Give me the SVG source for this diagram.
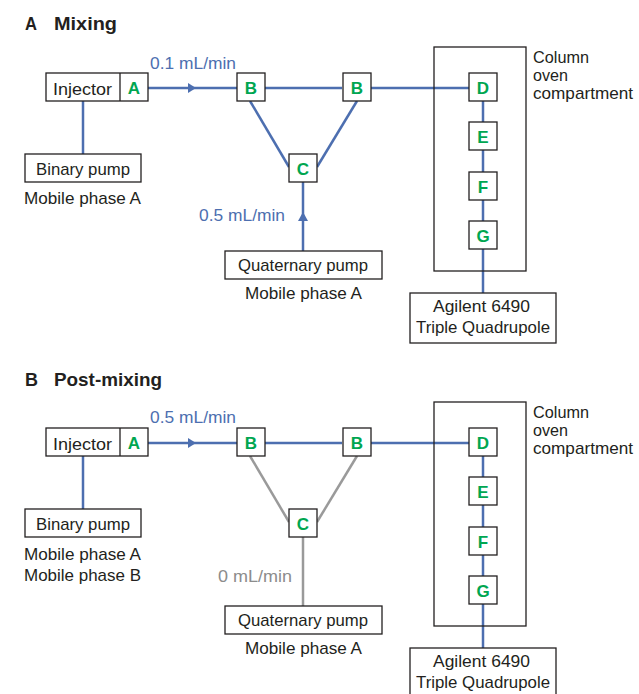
<svg xmlns="http://www.w3.org/2000/svg" width="639" height="694" viewBox="0 0 639 694">
<style>
text{font-family:"Liberation Sans Narrow","Liberation Sans",Arial,sans-serif;fill:#231f20;font-size:17px}
.title{font-weight:bold;font-size:19px}
.box{fill:#fff;stroke:#231f20;stroke-width:1.3}
.frame{fill:none;stroke:#231f20;stroke-width:1.3}
.ltr{font-weight:bold;fill:#00a651;font-size:17px;text-anchor:middle}
.flow{fill:#4d6fb0}
.gflow{fill:#8c8c8c}
.ln{stroke:#4d6fb0;stroke-width:2.5;fill:none}
.gln{stroke:#9a9a9a;stroke-width:2.5;fill:none}
.arr{fill:#4d6fb0}
</style>

<!-- ============ Panel A ============ -->
<g id="panelA">
  <text class="title" x="25" y="30" textLength="12" lengthAdjust="spacingAndGlyphs">A</text>
  <text class="title" x="54" y="30" textLength="63" lengthAdjust="spacingAndGlyphs">Mixing</text>

  <g id="a-connectors">
    <line class="ln" x1="148" y1="88" x2="237" y2="88"/>
    <polygon class="arr" points="188,83 196,88 188,93"/>
    <line class="ln" x1="265" y1="88" x2="342" y2="88"/>
    <line class="ln" x1="371" y1="88" x2="469" y2="88"/>
    <line class="ln" x1="250" y1="101" x2="289" y2="167"/>
    <line class="ln" x1="357" y1="101" x2="317" y2="167"/>
    <line class="ln" x1="303" y1="182" x2="303" y2="251"/>
    <polygon class="arr" points="298,221 303,212 308,221"/>
    <line class="ln" x1="83" y1="101" x2="83" y2="154"/>
    <line class="ln" x1="483" y1="101" x2="483" y2="293"/>
  </g>

  <text class="flow" x="150" y="69" textLength="86" lengthAdjust="spacingAndGlyphs">0.1 mL/min</text>
  <text class="flow" x="199" y="221" textLength="86" lengthAdjust="spacingAndGlyphs">0.5 mL/min</text>

  <g id="a-injector">
    <rect class="box" x="46" y="73" width="102" height="28"/>
    <line class="frame" x1="120" y1="73" x2="120" y2="101"/>
    <text x="53" y="95" textLength="59" lengthAdjust="spacingAndGlyphs">Injector</text>
    <text class="ltr" x="134" y="94">A</text>
  </g>
  <g id="a-binary">
    <rect class="box" x="25" y="154" width="116" height="28"/>
    <text x="36" y="175" textLength="94" lengthAdjust="spacingAndGlyphs">Binary pump</text>
    <text x="24" y="204" textLength="117" lengthAdjust="spacingAndGlyphs">Mobile phase A</text>
  </g>
  <g id="a-B1">
    <rect class="box" x="237" y="73" width="28" height="28"/>
    <text class="ltr" x="251" y="94">B</text>
  </g>
  <g id="a-B2">
    <rect class="box" x="343" y="73" width="28" height="28"/>
    <text class="ltr" x="357" y="94">B</text>
  </g>
  <g id="a-C">
    <rect class="box" x="289" y="154" width="28" height="28"/>
    <text class="ltr" x="303" y="175">C</text>
  </g>
  <g id="a-quaternary">
    <rect class="box" x="225" y="251" width="157" height="28"/>
    <text x="238" y="271" textLength="130" lengthAdjust="spacingAndGlyphs">Quaternary pump</text>
    <text x="245" y="299" textLength="117" lengthAdjust="spacingAndGlyphs">Mobile phase A</text>
  </g>
  <g id="a-oven">
    <rect class="frame" x="434" y="47" width="92" height="224"/>
    <text x="533" y="63" textLength="56" lengthAdjust="spacingAndGlyphs">Column</text>
    <text x="533" y="81" textLength="35" lengthAdjust="spacingAndGlyphs">oven</text>
    <text x="533" y="99" textLength="100" lengthAdjust="spacingAndGlyphs">compartment</text>
  </g>
  <g id="a-D">
    <rect class="box" x="469" y="73" width="28" height="28"/>
    <text class="ltr" x="483" y="94">D</text>
  </g>
  <g id="a-E">
    <rect class="box" x="469" y="122" width="28" height="28"/>
    <text class="ltr" x="483" y="143">E</text>
  </g>
  <g id="a-F">
    <rect class="box" x="469" y="172" width="28" height="28"/>
    <text class="ltr" x="483" y="193">F</text>
  </g>
  <g id="a-G">
    <rect class="box" x="469" y="221" width="28" height="28"/>
    <text class="ltr" x="483" y="242">G</text>
  </g>
  <g id="a-agilent">
    <rect class="box" x="410" y="293" width="146" height="50"/>
    <text x="433" y="312" textLength="97" lengthAdjust="spacingAndGlyphs">Agilent 6490</text>
    <text x="416" y="333" textLength="134" lengthAdjust="spacingAndGlyphs">Triple Quadrupole</text>
  </g>
</g>

<!-- ============ Panel B ============ -->
<g id="panelB">
  <text class="title" x="25" y="386" textLength="13" lengthAdjust="spacingAndGlyphs">B</text>
  <text class="title" x="54" y="386" textLength="108" lengthAdjust="spacingAndGlyphs">Post-mixing</text>

  <g id="b-connectors">
    <line class="ln" x1="148" y1="443" x2="237" y2="443"/>
    <polygon class="arr" points="188,438 196,443 188,448"/>
    <line class="ln" x1="265" y1="443" x2="342" y2="443"/>
    <line class="ln" x1="371" y1="443" x2="469" y2="443"/>
    <line class="gln" x1="250" y1="456" x2="289" y2="522"/>
    <line class="gln" x1="357" y1="456" x2="317" y2="522"/>
    <line class="gln" x1="303" y1="537" x2="303" y2="606"/>
    <line class="ln" x1="83" y1="456" x2="83" y2="509"/>
    <line class="ln" x1="483" y1="456" x2="483" y2="648"/>
  </g>

  <text class="flow" x="150" y="423" textLength="86" lengthAdjust="spacingAndGlyphs">0.5 mL/min</text>
  <text class="gflow" x="218" y="582" textLength="74" lengthAdjust="spacingAndGlyphs">0 mL/min</text>

  <g id="b-injector">
    <rect class="box" x="46" y="428" width="102" height="28"/>
    <line class="frame" x1="120" y1="428" x2="120" y2="456"/>
    <text x="53" y="450" textLength="59" lengthAdjust="spacingAndGlyphs">Injector</text>
    <text class="ltr" x="134" y="449">A</text>
  </g>
  <g id="b-binary">
    <rect class="box" x="25" y="509" width="116" height="28"/>
    <text x="36" y="530" textLength="94" lengthAdjust="spacingAndGlyphs">Binary pump</text>
    <text x="24" y="560" textLength="117" lengthAdjust="spacingAndGlyphs">Mobile phase A</text>
    <text x="24" y="581" textLength="117" lengthAdjust="spacingAndGlyphs">Mobile phase B</text>
  </g>
  <g id="b-B1">
    <rect class="box" x="237" y="428" width="28" height="28"/>
    <text class="ltr" x="251" y="449">B</text>
  </g>
  <g id="b-B2">
    <rect class="box" x="343" y="428" width="28" height="28"/>
    <text class="ltr" x="357" y="449">B</text>
  </g>
  <g id="b-C">
    <rect class="box" x="289" y="509" width="28" height="28"/>
    <text class="ltr" x="303" y="530">C</text>
  </g>
  <g id="b-quaternary">
    <rect class="box" x="225" y="606" width="157" height="28"/>
    <text x="238" y="626" textLength="130" lengthAdjust="spacingAndGlyphs">Quaternary pump</text>
    <text x="245" y="654" textLength="117" lengthAdjust="spacingAndGlyphs">Mobile phase A</text>
  </g>
  <g id="b-oven">
    <rect class="frame" x="434" y="402" width="92" height="224"/>
    <text x="533" y="418" textLength="56" lengthAdjust="spacingAndGlyphs">Column</text>
    <text x="533" y="436" textLength="35" lengthAdjust="spacingAndGlyphs">oven</text>
    <text x="533" y="454" textLength="100" lengthAdjust="spacingAndGlyphs">compartment</text>
  </g>
  <g id="b-D">
    <rect class="box" x="469" y="428" width="28" height="28"/>
    <text class="ltr" x="483" y="449">D</text>
  </g>
  <g id="b-E">
    <rect class="box" x="469" y="477" width="28" height="28"/>
    <text class="ltr" x="483" y="498">E</text>
  </g>
  <g id="b-F">
    <rect class="box" x="469" y="527" width="28" height="28"/>
    <text class="ltr" x="483" y="548">F</text>
  </g>
  <g id="b-G">
    <rect class="box" x="469" y="576" width="28" height="28"/>
    <text class="ltr" x="483" y="597">G</text>
  </g>
  <g id="b-agilent">
    <rect class="box" x="410" y="648" width="146" height="52"/>
    <text x="433" y="667" textLength="97" lengthAdjust="spacingAndGlyphs">Agilent 6490</text>
    <text x="416" y="688" textLength="134" lengthAdjust="spacingAndGlyphs">Triple Quadrupole</text>
  </g>
</g>
</svg>
